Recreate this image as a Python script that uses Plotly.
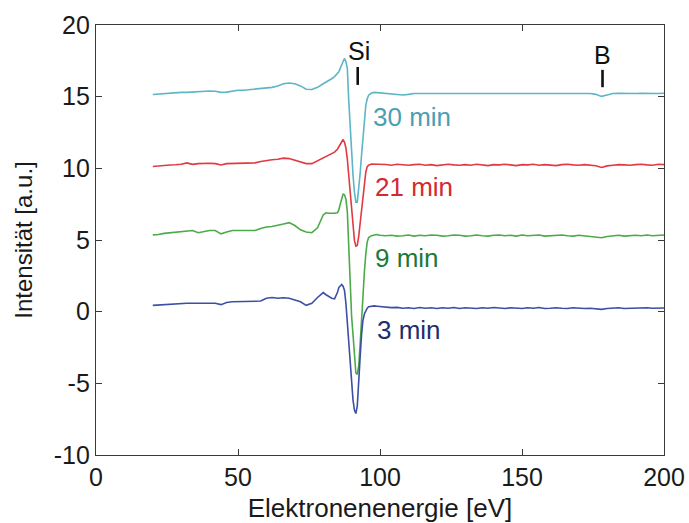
import plotly.graph_objects as go

# Energy grid (eV)
energy = [20, 22, 24, 26, 28, 30, 32, 34, 36, 38, 40, 42, 44, 46, 48, 50, 52, 54, 56, 58,
          60, 62, 64, 66, 68, 70, 72, 74, 76, 78, 80,
          81, 82, 83, 84, 85, 85.5, 86, 86.5, 87, 87.5, 88, 88.5, 89, 89.5, 90, 90.5, 91,
          91.5, 92, 92.5, 93, 93.5, 94, 94.5, 95, 95.5, 96, 97, 98, 99, 100,
          102, 104, 106, 108, 110, 112, 114, 116, 118, 120, 122, 124, 126, 128, 130,
          132, 134, 136, 138, 140, 142, 144, 146, 148, 150, 152, 154, 156, 158, 160,
          162, 164, 166, 168, 170, 172, 174, 176, 178, 180, 182, 184, 186, 188, 190,
          192, 194, 196, 198, 200]

i_30min = [15.15, 15.18, 15.2, 15.25, 15.3, 15.3, 15.3, 15.32, 15.35, 15.4, 15.4, 15.38, 15.3, 15.32,
           15.4, 15.45, 15.45, 15.48, 15.52, 15.55, 15.6, 15.65, 15.75, 15.9, 15.95, 15.9, 15.75,
           15.52, 15.5, 15.65, 15.9,
           16.0, 16.1, 16.25, 16.4, 16.6, 16.73, 16.98, 17.23, 17.48, 17.68, 17.43, 16.98, 14.7, 12.8,
           11.12, 9.53, 8.34, 7.64, 7.64, 8.44, 9.63, 10.92, 12.31, 13.5, 14.4, 14.85, 15.1, 15.25,
           15.3, 15.28, 15.26,
           15.24, 15.2, 15.14, 15.12, 15.16, 15.22, 15.22, 15.24, 15.22, 15.22,
           15.24, 15.22, 15.22, 15.24, 15.22, 15.22, 15.22, 15.24, 15.22, 15.22,
           15.22, 15.24, 15.22, 15.22, 15.22, 15.22, 15.24, 15.22, 15.22, 15.22,
           15.22, 15.24, 15.22, 15.22, 15.22, 15.22, 15.22, 15.16, 15.02, 15.12,
           15.22, 15.24, 15.22, 15.22, 15.22, 15.24, 15.22, 15.22, 15.22, 15.24]

i_21min = [10.13, 10.18, 10.23, 10.23, 10.25, 10.28, 10.38, 10.28, 10.33, 10.35, 10.35, 10.33, 10.23,
           10.33, 10.35, 10.35, 10.35, 10.37, 10.38, 10.48, 10.55, 10.6, 10.63, 10.71, 10.68, 10.58,
           10.43, 10.33, 10.33, 10.53, 10.68,
           10.78, 10.93, 11.03, 11.13, 11.33, 11.52, 11.67, 11.87, 12.01, 11.82, 11.42, 10.63, 9.43,
           7.94, 6.75, 5.56, 4.97, 4.57, 4.62, 5.26, 6.25, 7.05, 8.04, 9.03, 9.73, 10.12, 10.22,
           10.3, 10.3, 10.28, 10.27,
           10.27, 10.22, 10.28, 10.25, 10.22, 10.26, 10.28, 10.22, 10.26, 10.19,
           10.26, 10.28, 10.24, 10.22, 10.26, 10.22, 10.28, 10.24, 10.19, 10.26,
           10.24, 10.28, 10.22, 10.19, 10.26, 10.24, 10.28, 10.22, 10.26, 10.24,
           10.19, 10.26, 10.28, 10.24, 10.22, 10.26, 10.22, 10.18, 10.06, 10.17,
           10.22, 10.26, 10.24, 10.22, 10.26, 10.28, 10.24, 10.22, 10.28, 10.26]

i_9min = [5.36, 5.38, 5.46, 5.51, 5.54, 5.56, 5.61, 5.66, 5.51, 5.61, 5.66, 5.66, 5.43, 5.56,
          5.66, 5.66, 5.66, 5.66, 5.66, 5.81, 5.91, 5.94, 6.01, 6.11, 6.21, 6.01, 5.71,
          5.56, 5.51, 5.85, 6.75,
          6.9, 6.87, 6.85, 6.87, 6.9, 7.1, 7.5, 7.85, 8.2, 8.15, 7.85, 6.96, 4.17, 1.19,
          -0.32, -1.61, -2.8, -4.28, -4.38, -3.79, -2.3, -0.32, 1.17, 2.75, 4.03, 4.87, 5.17, 5.3,
          5.35, 5.38, 5.33,
          5.3, 5.33, 5.27, 5.3, 5.35, 5.27, 5.33, 5.3, 5.35, 5.33,
          5.27, 5.3, 5.35, 5.33, 5.27, 5.3, 5.35, 5.3, 5.27, 5.33,
          5.35, 5.3, 5.33, 5.27, 5.35, 5.3, 5.33, 5.35, 5.27, 5.3,
          5.33, 5.35, 5.3, 5.27, 5.33, 5.3, 5.27, 5.22, 5.16, 5.25,
          5.3, 5.33, 5.27, 5.3, 5.33, 5.3, 5.35, 5.3, 5.33, 5.35]

i_3min = [0.44, 0.47, 0.49, 0.52, 0.54, 0.57, 0.59, 0.59, 0.59, 0.59, 0.59, 0.59, 0.49, 0.64,
          0.69, 0.69, 0.69, 0.69, 0.69, 0.74, 0.94, 0.99, 0.94, 0.97, 0.94, 0.79, 0.69,
          0.44, 0.59, 0.99, 1.33,
          1.18, 1.03, 0.94, 0.89, 1.33, 1.68, 1.83, 1.9, 1.78, 1.48, 0.59, -0.8, -2.39, -3.78,
          -5.08, -6.17, -6.86, -7.11, -6.57, -5.18, -3.19, -1.6, -0.6, -0.16, 0.09, 0.24, 0.34,
          0.38, 0.4, 0.38, 0.35,
          0.32, 0.28, 0.3, 0.24, 0.27, 0.22, 0.29, 0.24, 0.27, 0.22,
          0.27, 0.24, 0.29, 0.22, 0.27, 0.24, 0.22, 0.27, 0.24, 0.29,
          0.24, 0.22, 0.27, 0.24, 0.22, 0.27, 0.24, 0.29, 0.22, 0.24,
          0.27, 0.24, 0.22, 0.27, 0.24, 0.22, 0.24, 0.2, 0.16, 0.22,
          0.24, 0.27, 0.22, 0.24, 0.27, 0.24, 0.27, 0.24, 0.27, 0.26]

series_names = ["30 min", "21 min", "9 min", "3 min"]
series_values = [i_30min, i_21min, i_9min, i_3min]
line_colors = ["#5cb6c6", "#e13a40", "#4caa49", "#3c4fa3"]
label_colors = ["#4a9fb2", "#d42a2f", "#1b7a3a", "#1f2e6e"]
label_x = [97.0, 97.5, 97.5, 98.2]
label_y = [13.55, 8.67, 3.71, -1.28]

peak_labels = ["Si", "B"]
peak_text_x = [92.6, 178.5]
peak_text_y = [18.19, 17.93]
peak_bar_x = [92.15, 178.35]
peak_bar_lo = [15.82, 15.66]
peak_bar_hi = [17.07, 16.87]

y_ticks = [-10, -5, 0, 5, 10, 15, 20]
y_ticktext = ["-10", "-5", "0", "5", "10", "15", "20"]
x_ticks = [0, 50, 100, 150, 200]

FONT = "Liberation Sans, Arial, sans-serif"

fig = go.Figure()
for name, vals, col in zip(series_names, series_values, line_colors):
    fig.add_trace(go.Scatter(x=energy, y=vals, mode="lines", name=name,
                             line=dict(color=col, width=1.6), hoverinfo="skip"))

annotations = []
for name, lx, ly, lc in zip(series_names, label_x, label_y, label_colors):
    annotations.append(dict(x=lx, y=ly, xref="x", yref="y", text=name, showarrow=False,
                            xanchor="left", yanchor="middle",
                            font=dict(family=FONT, size=26, color=lc)))
for lab, px, ty in zip(peak_labels, peak_text_x, peak_text_y):
    annotations.append(dict(x=px, y=ty, xref="x", yref="y", text=lab, showarrow=False,
                            xanchor="center", yanchor="middle",
                            font=dict(family=FONT, size=25, color="#111111")))

shapes = []
for bx, lo, hi in zip(peak_bar_x, peak_bar_lo, peak_bar_hi):
    shapes.append(dict(type="line", xref="x", yref="y", x0=bx, x1=bx, y0=lo, y1=hi,
                       line=dict(color="#111111", width=2.6)))

axis_common = dict(showgrid=False, zeroline=False, showline=True, linecolor="#3a3a3a",
                   linewidth=1.3, ticks="inside", ticklen=6, tickwidth=1, tickcolor="#3a3a3a",
                   mirror="ticks", automargin=False,
                   tickfont=dict(family=FONT, size=25, color="#1a1a1a"))

fig.update_layout(
    width=689, height=523,
    margin=dict(l=96, r=25, t=25, b=68, autoexpand=False),
    paper_bgcolor="white", plot_bgcolor="white",
    showlegend=False,
    annotations=annotations,
    shapes=shapes,
    xaxis=dict(range=[0, 200], tickvals=x_ticks, ticklabelstandoff=0,
               title=dict(text="Elektronenenergie [eV]", standoff=9,
                          font=dict(family=FONT, size=26, color="#1a1a1a")),
               **axis_common),
    yaxis=dict(range=[-10, 20], tickvals=y_ticks, ticktext=y_ticktext,
               title=dict(text="Intensität [a.u.]", standoff=14,
                          font=dict(family=FONT, size=24, color="#1a1a1a")),
               **axis_common),
)

fig.write_html("out.html", config={"displayModeBar": False})
